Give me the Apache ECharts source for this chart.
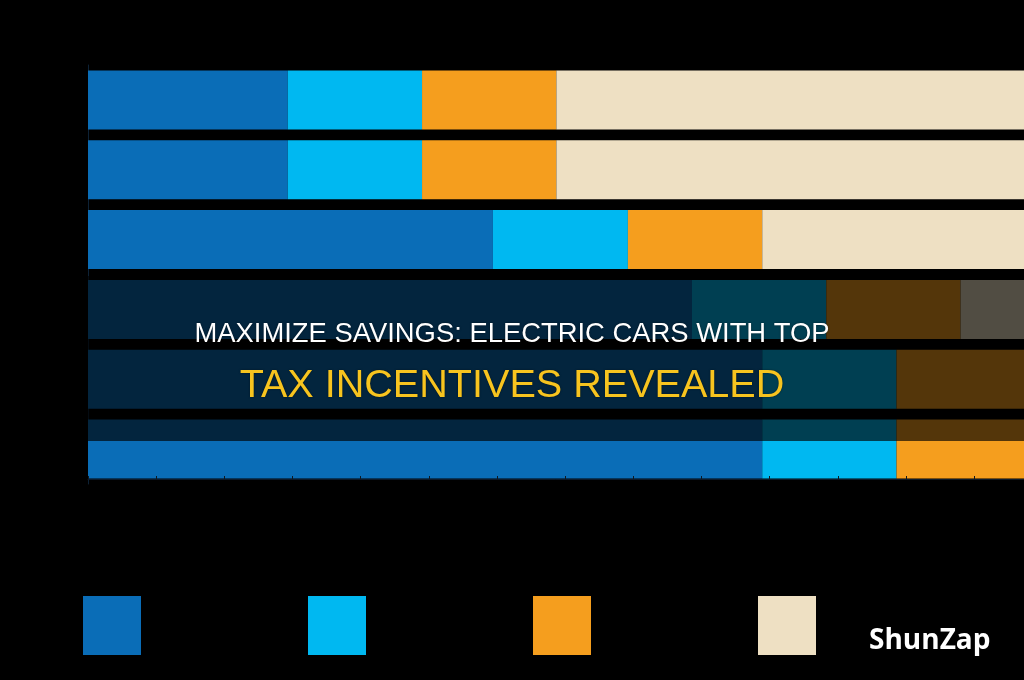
<!DOCTYPE html>
<html>
<head>
<meta charset="utf-8">
<script src="https://cdn.jsdelivr.net/npm/echarts@6/dist/echarts.min.js"></script>
<style>
    html, body { margin: 0; padding: 0; background: #000; }
    #main { width: 1024px; height: 680px; }
</style>
</head>
<body>
<div id="main"></div>
<script>
// rows, top to bottom
let categories = ['Model A', 'Model B', 'Model C', 'Model D', 'Model E', 'Model F']
let seriesNames = ['Federal Tax Credit', 'State Rebate', 'Utility Incentive', 'Other Savings']
// stacked values per row (in thousand $)
let federalCredit = [2.93, 2.93, 5.94, 8.86, 9.89, 9.89]
let stateRebate = [1.97, 1.97, 1.98, 1.97, 1.97, 1.97]
let utilityIncentive = [1.97, 1.97, 1.97, 1.97, 2.0, 2.0]
let otherSavings = [7.2, 7.2, 4.2, 1.3, 0.3, 0.3]
let colors = ['#0A6DB7', '#00B8F1', '#F59E1E', '#EEE0C3']
// visible part of the value axis (the picture is cut at the right)
let axisMax = 13.73

let titleLine1 = 'MAXIMIZE SAVINGS: ELECTRIC CARS WITH TOP'
let titleLine2 = 'TAX INCENTIVES REVEALED'
let watermark = 'ShunZap'

/** 生成一个堆叠条形的系列 */
function createBarSeries(name, data) {
    return {
        name: name,
        type: 'bar',
        stack: 'total',
        barWidth: 59,
        data: data
    }
}

function getTitleGraphic(y, text, font, color) {
    return {
        type: 'text',
        left: 'center',
        top: y,
        z: 101,
        style: {
            text: text,
            fill: color,
            font: font,
            textShadowColor: 'rgba(0,0,0,0.5)',
            textShadowBlur: 2
        }
    }
}

function createChart(element) {
    var myChart = echarts.init(element)
    let allData = [federalCredit, stateRebate, utilityIncentive, otherSavings]
    let series = seriesNames.map((n, i) => createBarSeries(n, allData[i]))
    let font_family = '"Liberation Sans", Arial, sans-serif'

    let option = {
        backgroundColor: '#000',
        animation: false,
        color: colors,
        grid: {
            left: 88,
            top: 65,
            height: 419,
            right: 0
        },
        legend: {
            left: 83,
            top: 596,
            padding: 0,
            icon: 'rect',
            itemWidth: 58,
            itemHeight: 59,
            itemGap: 167,
            formatter: () => '',
            data: seriesNames
        },
        xAxis: {
            type: 'value',
            min: 0,
            max: axisMax,
            interval: 1,
            offset: -5,
            z: 5,
            axisLine: { show: true, lineStyle: { color: '#0b1a2b' } },
            axisTick: { show: true, inside: true, length: 3, lineStyle: { color: '#101820' } },
            axisLabel: { show: false },
            splitLine: { show: false }
        },
        yAxis: {
            type: 'category',
            inverse: true,
            data: categories,
            axisLine: { show: true, lineStyle: { color: '#0d2236' } },
            axisTick: { show: false },
            axisLabel: { show: false }
        },
        graphic: [
            {
                // 中间的半透明遮罩条
                type: 'rect',
                left: 0,
                top: 276,
                z: 100,
                shape: { width: 1024, height: 165 },
                style: { fill: 'rgba(0,0,0,0.66)' }
            },
            getTitleGraphic(321, titleLine1, '27.4px ' + font_family, '#ffffff'),
            getTitleGraphic(366, titleLine2, '39.6px ' + font_family, '#F7C41F'),
            {
                type: 'text',
                left: 869,
                top: 627,
                z: 101,
                style: {
                    text: watermark,
                    fill: '#ffffff',
                    font: 'bold 28px "Open Sans", sans-serif'
                }
            }
        ],
        series: series
    }
    myChart.setOption(option)
}

createChart(document.getElementById('main'))
</script>
</body>
</html>
